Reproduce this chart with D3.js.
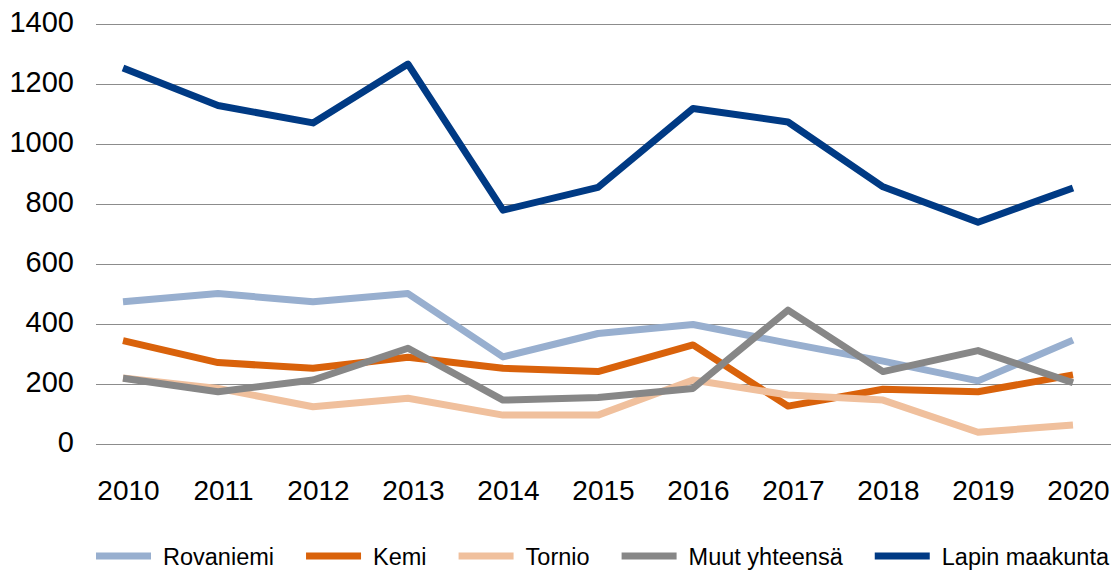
<!DOCTYPE html>
<html>
<head>
<meta charset="utf-8">
<script src="https://cdn.jsdelivr.net/npm/d3@7"></script>
<style>
  html, body { margin: 0; padding: 0; background: #fff; }
  svg { display: block; font-family: "Liberation Sans", Arial, sans-serif; }
</style>
</head>
<body>
<svg id="chart" width="1119" height="572"></svg>
<script>
const years = ["2010","2011","2012","2013","2014","2015","2016","2017","2018","2019","2020"];
const yTicks = [0, 200, 400, 600, 800, 1000, 1200, 1400];
const seriesNames = ["Rovaniemi", "Kemi", "Tornio", "Muut yhteensä", "Lapin maakunta"];
const seriesColors = ["#98AFCF", "#D9620B", "#F0C09D", "#878787", "#003A84"];
const rovaniemi = [476, 503, 476, 503, 292, 370, 400, 338, 278, 212, 348];
const kemi      = [346, 273, 254, 291, 254, 243, 332, 128, 184, 176, 232];
const tornio    = [222, 187, 126, 154, 98, 98, 215, 165, 148, 41, 65];
const muut      = [221, 176, 215, 321, 148, 157, 187, 448, 243, 313, 206];
const lapin     = [1255, 1130, 1072, 1268, 781, 857, 1120, 1075, 859, 741, 855];
const seriesValues = [rovaniemi, kemi, tornio, muut, lapin];

const svg = d3.select("#chart");
const x = d3.scalePoint().domain(years).range([123, 1073]);
const y = d3.scaleLinear().domain([0, 1400]).range([444.5, 24.5]);

// gridlines
svg.append("g").selectAll("line").data(yTicks).join("line")
  .attr("x1", 96).attr("x2", 1111)
  .attr("y1", d => y(d)).attr("y2", d => y(d))
  .attr("stroke", "#8c8c8c").attr("stroke-width", 1.2);

// y axis labels
const yAxis = d3.axisLeft(y).tickValues(yTicks).tickFormat(d3.format("d")).tickSize(0).tickPadding(0);
const gy = svg.append("g").attr("transform", "translate(74,-2)").call(yAxis);
gy.select(".domain").remove();
gy.selectAll("text").attr("font-size", 29).attr("fill", "#000")
  .attr("font-family", "'Liberation Sans', Arial, sans-serif");

// x axis labels
const xAxis = d3.axisBottom(x).tickSize(0).tickPadding(0);
const gx = svg.append("g").attr("transform", "translate(5,480)").call(xAxis);
gx.select(".domain").remove();
gx.selectAll("text").attr("font-size", 28).attr("fill", "#000")
  .attr("font-family", "'Liberation Sans', Arial, sans-serif");

// lines
const line = d3.line().x((d, i) => x(years[i])).y(d => y(d));
seriesValues.forEach((vals, k) => {
  svg.append("path").datum(vals)
    .attr("d", line)
    .attr("fill", "none")
    .attr("stroke", seriesColors[k])
    .attr("stroke-width", 7)
    .attr("stroke-linejoin", "round")
    .attr("stroke-linecap", "butt");
});

// legend
const lg = svg.append("g");
let cx = 96;
seriesNames.forEach((name, k) => {
  lg.append("line").attr("x1", cx).attr("x2", cx + 55)
    .attr("y1", 556).attr("y2", 556)
    .attr("stroke", seriesColors[k]).attr("stroke-width", 7);
  const t = lg.append("text").attr("x", cx + 67).attr("y", 565)
    .attr("font-size", 23.5).attr("fill", "#000").text(name);
  cx += 67 + t.node().getComputedTextLength() + 32;
});
</script>
</body>
</html>
